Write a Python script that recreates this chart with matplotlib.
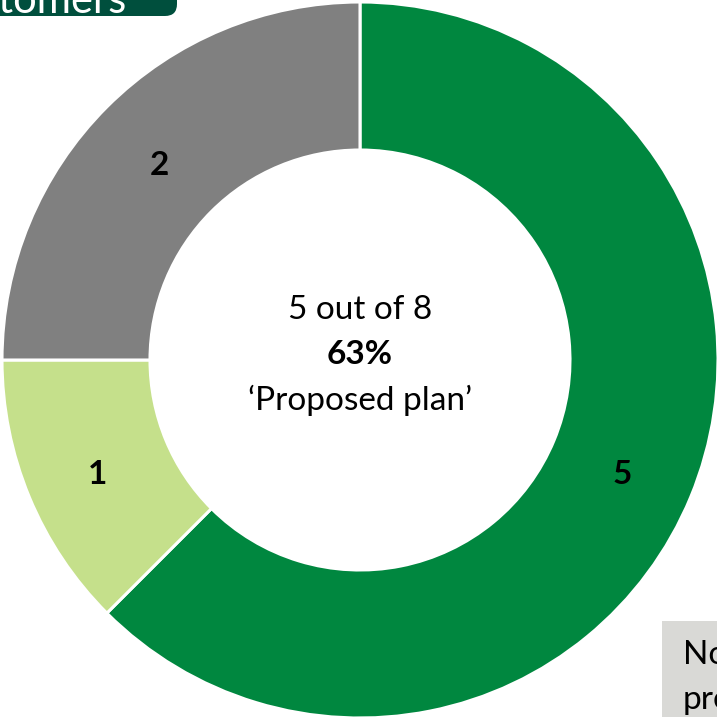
import matplotlib
matplotlib.use("Agg")
import matplotlib.pyplot as plt
from matplotlib.patches import FancyBboxPatch
import numpy as np

plt.rcParams['font.family'] = ['Lato', 'DejaVu Sans']

# Customer responses by option
categories = ['Proposed plan', 'Option B', 'Option C']
counts = [5, 1, 2]
colors = ['#00873F', '#C5E08B', '#808080']
total = sum(counts)
share_pct = int(counts[0] / total * 100 + 0.5)

W = H = 717
fig = plt.figure(figsize=(7.17, 7.17), dpi=100)
ax = fig.add_axes([0, 0, 1, 1])

cx, cy = 360, H - 360
R = 358
ring = 148

wedges, _ = ax.pie(counts, colors=colors, startangle=90, counterclock=False,
                   radius=R, center=(cx, cy),
                   wedgeprops=dict(width=ring, edgecolor='white', linewidth=2.2))

ax.set_xlim(0, W)
ax.set_ylim(0, H)
ax.set_aspect('equal')
ax.axis('off')

# value labels at the middle of the ring
for w, v in zip(wedges, counts):
    ang = np.deg2rad((w.theta1 + w.theta2) / 2)
    rr = R - ring / 2
    ax.text(cx + rr * np.cos(ang), cy + rr * np.sin(ang) - 6, str(v),
            ha='center', va='center', fontsize=24, fontweight='bold', color='black')

# centre caption
ax.text(cx, cy + 50, f"{counts[0]} out of {total}", ha='center', va='center',
        fontsize=24, color='black')
ax.text(cx, cy + 5, f"{share_pct}%", ha='center', va='center',
        fontsize=24, fontweight='bold', color='black')
ax.text(cx, cy - 40, "\u2018Proposed plan\u2019", ha='center', va='center',
        fontsize=24, color='black')

# header tab
tab = FancyBboxPatch((-200, H - 16), 377, 60, boxstyle="round,pad=0,rounding_size=12",
                     facecolor='#004F3D', edgecolor='none')
ax.add_patch(tab)
ax.text(126, H - 1, "Customers", ha='right', va='center', fontsize=30, color='white')

# note box
note = FancyBboxPatch((662, -100), 200, 196, boxstyle="square,pad=0",
                      facecolor='#D9D9D6', edgecolor='none')
ax.add_patch(note)
ax.text(683, H - 655, "Note: proposal", ha='left', va='center', fontsize=24, color='black')
ax.text(683, H - 700, "preferred", ha='left', va='center', fontsize=24, color='black')

fig.savefig("out.png", dpi=100)
